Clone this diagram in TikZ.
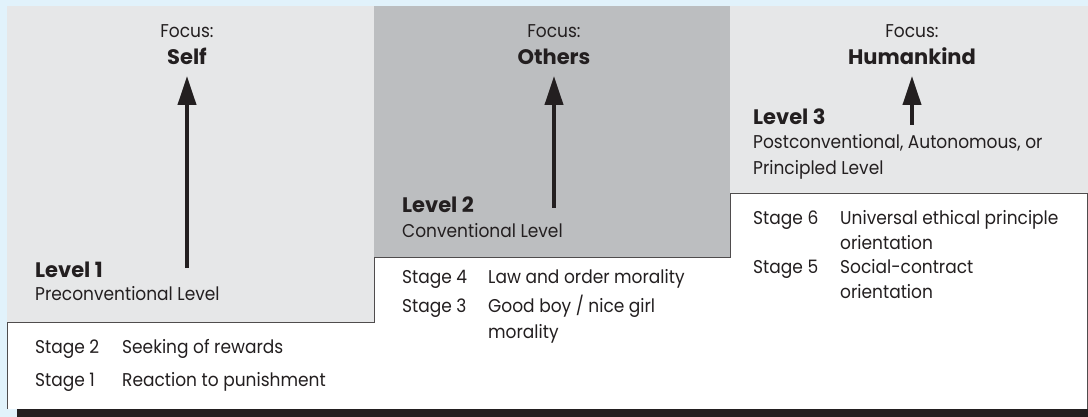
\documentclass[tikz,border=0pt]{standalone}
\usepackage{fontspec}
\setmainfont{Poppins}[FakeStretch=0.92, BoldFeatures={FakeStretch=1.0}]
\usetikzlibrary{arrows.meta}
\definecolor{bgblue}{HTML}{E1F2FB}
\definecolor{lgray}{HTML}{E6E7E8}
\definecolor{dgray}{HTML}{BCBEC0}
\definecolor{ink}{HTML}{231F20}
\begin{document}
\begin{tikzpicture}[x=1pt,y=-1pt,
  txt/.style={inner sep=0pt, text=ink, font=\fontsize{18.5}{22}\selectfont},
  btxt/.style={inner sep=0pt, text=ink, font=\fontsize{21}{24}\selectfont\bfseries},
  uparrow/.style={draw=ink, line width=4pt, -{Triangle[width=18pt,length=29pt]}},
  boxline/.style={draw=ink!80, line width=0.9pt}]
\useasboundingbox (0,0) rectangle (1088,417);
\fill[bgblue] (0,0) rectangle (1088,417);
% columns
\fill[lgray] (7,6) rectangle (374,322);
\fill[dgray] (374,6) rectangle (730,257);
\fill[lgray] (730,6) rectangle (1088,193);
% white stepped box
\filldraw[boxline, fill=white] (7,409) -- (7,322) -- (374,322) -- (374,257) -- (730,257) -- (730,193) -- (1087,193) -- (1087,409);
\fill[ink] (17,409) rectangle (1088,417);

% column 1
\node[txt, anchor=base] (f1) at (187,38) {Focus:};
\node[btxt, anchor=base] (s1) at (187,65) {Self};
\coordinate (a1) at (187,268);
\coordinate (t1) at (187,76);
\draw[uparrow] (a1) -- (t1);
\node[btxt, anchor=base west] (l1) at (35,277) {Level 1};
\node[txt, anchor=base west] (n1) at (35,300) {Preconventional Level};
\node[txt, anchor=base west] (st2) at (35,353) {Stage 2};
\node[txt, anchor=base west] (d2) at (122,353) {Seeking of rewards};
\node[txt, anchor=base west] (st1) at (35,386) {Stage 1};
\node[txt, anchor=base west] (d1) at (122,386) {Reaction to punishment};

% column 2
\node[txt, anchor=base] (f2) at (554,38) {Focus:};
\node[btxt, anchor=base] (s2) at (554,65) {Others};
\coordinate (a2) at (554,208);
\coordinate (t2) at (554,76);
\draw[uparrow] (a2) -- (t2);
\node[btxt, anchor=base west] (l2) at (402,212) {Level 2};
\node[txt, anchor=base west] (n2) at (402,237) {Conventional Level};
\node[txt, anchor=base west] (st4) at (402,283) {Stage 4};
\node[txt, anchor=base west] (d4) at (488,283) {Law and order morality};
\node[txt, anchor=base west] (st3) at (402,312) {Stage 3};
\node[txt, anchor=base west] (d3a) at (488,312) {Good boy / nice girl};
\node[txt, anchor=base west] (d3b) at (488,338) {morality};

% column 3
\node[txt, anchor=base] (f3) at (912,38) {Focus:};
\node[btxt, anchor=base] (s3) at (912,65) {Humankind};
\coordinate (a3) at (912,125);
\coordinate (t3) at (912,76);
\draw[uparrow] (a3) -- (t3);
\node[btxt, anchor=base west] (l3) at (753,125) {Level 3};
\node[txt, anchor=base west] (n3a) at (753,149) {Postconventional, Autonomous, or};
\node[txt, anchor=base west] (n3b) at (753,175) {Principled Level};
\node[txt, anchor=base west] (st6) at (753,225) {Stage 6};
\node[txt, anchor=base west] (d6a) at (840,225) {Universal ethical principle};
\node[txt, anchor=base west] (d6b) at (840,249) {orientation};
\node[txt, anchor=base west] (st5) at (753,273) {Stage 5};
\node[txt, anchor=base west] (d5a) at (840,273) {Social-contract};
\node[txt, anchor=base west] (d5b) at (840,298) {orientation};
\end{tikzpicture}
\end{document}
